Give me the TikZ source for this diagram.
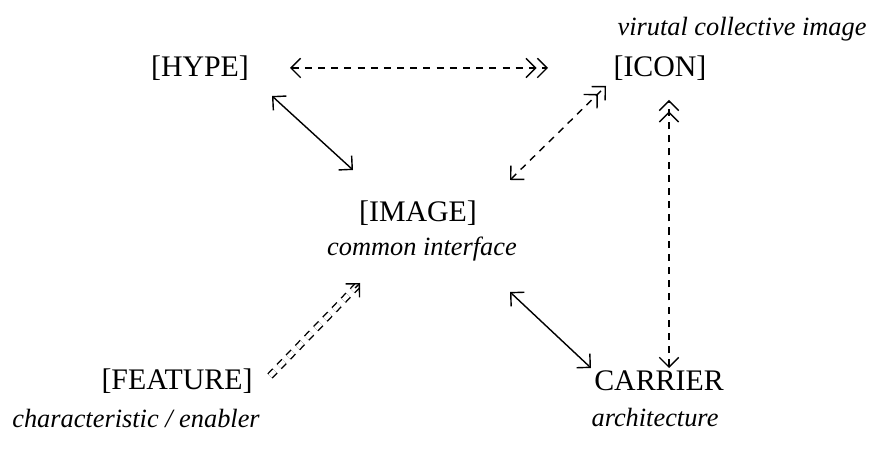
\documentclass[tikz,border=0pt]{standalone}
\usepackage{fontspec}
\setmainfont{Liberation Serif}
\usetikzlibrary{arrows.meta,positioning}

\begin{document}
\begin{tikzpicture}[
    x=0.02cm, y=-0.02cm,
    >={Straight Barb[length=5.5pt,width=11pt]},
    line width=0.8pt,
    term/.style={inner sep=0pt, font=\fontsize{17}{20}\selectfont},
    gloss/.style={inner sep=0pt, font=\fontsize{15}{18}\selectfont\itshape},
    vague/.style={dash pattern=on 4pt off 3.5pt},
]
\useasboundingbox (0,0) rectangle (883,472);

%% ---- TOP ROW ----
\node[term] (hype) at (200,68) {[HYPE]};
\node[term] (icon) at (660,68) {[ICON]};
\node[gloss] (iconnote) at (742,29) {virutal collective image};

%% ---- CENTRE ----
\node[term] (image) at (418,213) {[IMAGE]};
\node[gloss] (imagenote) at (422,249) {common interface};

%% ---- BOTTOM ROW ----
\node[term] (feature) at (177,381) {[FEATURE]};
\node[gloss] (featurenote) at (136,418) {characteristic / enabler};
\node[term] (carrier) at (659,381) {CARRIER};
\node[gloss] (carriernote) at (655,418) {architecture};

%% ---- DASHED LINKS ----
\draw[<->>,vague] ([shift={(90,0)}]hype.center) -- ([shift={(-112,0)}]icon.center);
\draw[<->>,vague] ([shift={(92,-33)}]image.center) -- ([shift={(-54,18)}]icon.center);
\draw[<->>,vague] ([shift={(10,-13)}]carrier.center) -- ([shift={(9,32)}]icon.center);

%% ---- SOLID LINKS ----
\draw[<->] ([shift={(72,28)}]hype.center) -- ([shift={(-65,-43)}]image.center);
\draw[<->] ([shift={(92,79)}]image.center) -- ([shift={(-68,-13)}]carrier.center);

%% ---- FEATURE feeds IMAGE (double dashed, tip drawn on its own) ----
\draw[vague,double,double distance=2.6pt,shorten >=1.5pt]
    ([shift={(93,-5)}]feature.center) -- ([shift={(-58,70)}]image.center);
\draw[->,shorten <=2.45cm]
    ([shift={(93,-5)}]feature.center) -- ([shift={(-58,70)}]image.center);

\end{tikzpicture}
\end{document}
